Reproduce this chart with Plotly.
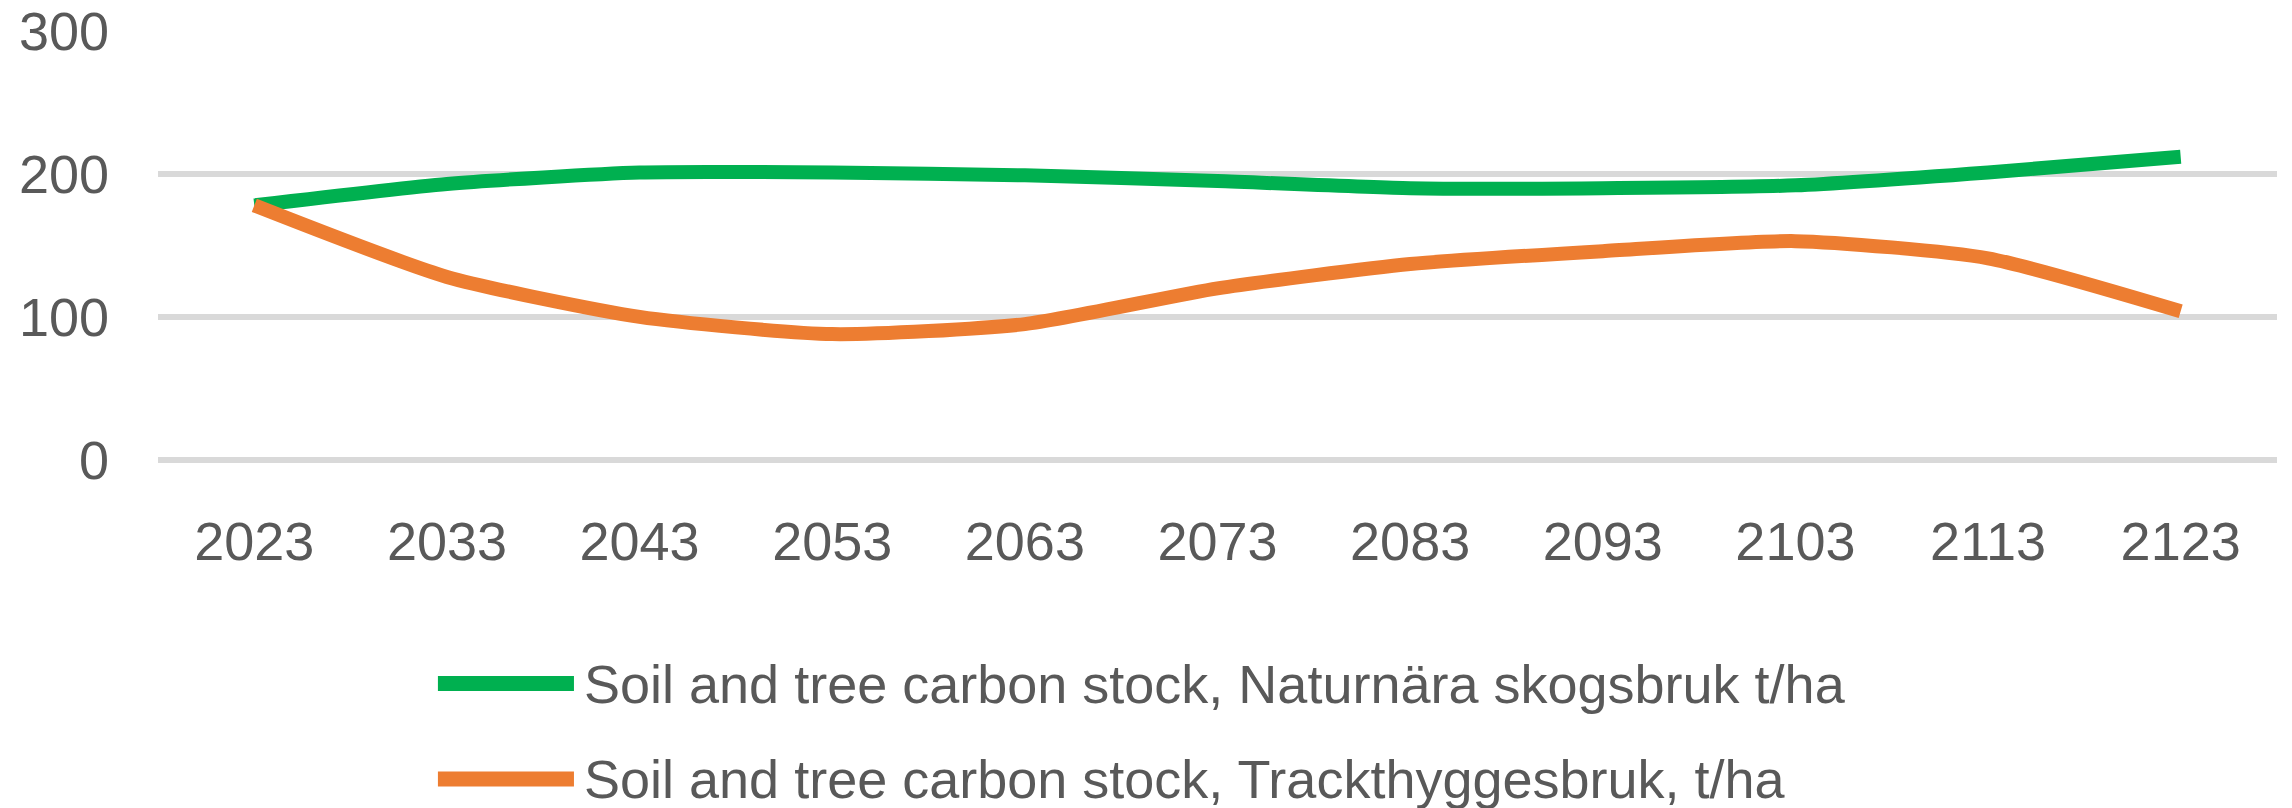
import plotly.graph_objects as go

years = ["2023", "2033", "2043", "2053", "2063", "2073", "2083", "2093", "2103", "2113", "2123"]
naturnara = [178, 193, 201, 201, 199, 195, 190, 190, 192, 201, 212]
trackthygges = [178, 128, 100, 88, 95, 120, 137, 146, 153, 141, 104]
series_names = [
    "Soil and tree carbon stock, Naturnära skogsbruk t/ha",
    "Soil and tree carbon stock, Trackthyggesbruk, t/ha",
]
series_colors = ["#00b050", "#ed7d31"]
y_ticks = [0, 100, 200, 300]

FONT = "Liberation Sans, Arial, sans-serif"
TEXT_COLOR = "#595959"

fig = go.Figure()
for name, vals, col in zip(series_names, [naturnara, trackthygges], series_colors):
    fig.add_trace(go.Scatter(
        x=years, y=vals, name=name, mode="lines",
        line=dict(color=col, width=14, shape="spline", smoothing=0.6),
        showlegend=False,
    ))

# custom legend (long line samples like the original)
leg_y = [-0.52, -0.742]
for name, col, yy in zip(series_names, series_colors, leg_y):
    fig.add_shape(type="line", xref="paper", yref="paper",
                  x0=0.1321, x1=0.1963, y0=yy, y1=yy,
                  line=dict(color=col, width=15))
    fig.add_annotation(xref="paper", yref="paper", x=0.2003, y=yy,
                       xanchor="left", yanchor="middle", showarrow=False,
                       text=name, font=dict(family=FONT, size=54, color=TEXT_COLOR))

fig.update_layout(
    width=2292, height=808,
    margin=dict(l=158, r=15, t=30, b=348, autoexpand=False),
    paper_bgcolor="white", plot_bgcolor="white",
    font=dict(family=FONT, size=54, color=TEXT_COLOR),
    showlegend=False,
)
fig.update_xaxes(
    type="category", range=[-0.5, 10.5], automargin=False,
    showgrid=False, showline=False, zeroline=False,
    ticks="", ticklabelstandoff=45,
    tickfont=dict(family=FONT, size=54, color=TEXT_COLOR),
)
fig.update_yaxes(
    range=[0, 300.6], tickvals=y_ticks, automargin=False,
    showgrid=True, gridcolor="#d9d9d9", gridwidth=6,
    zeroline=True, zerolinecolor="#d9d9d9", zerolinewidth=6,
    showline=False, ticks="", ticklabelstandoff=48,
    tickfont=dict(family=FONT, size=54, color=TEXT_COLOR),
)

fig.write_html(
    "out.html",
    config={"displayModeBar": False},
    post_script="document.body.style.margin='0';document.body.style.overflow='hidden';",
)
